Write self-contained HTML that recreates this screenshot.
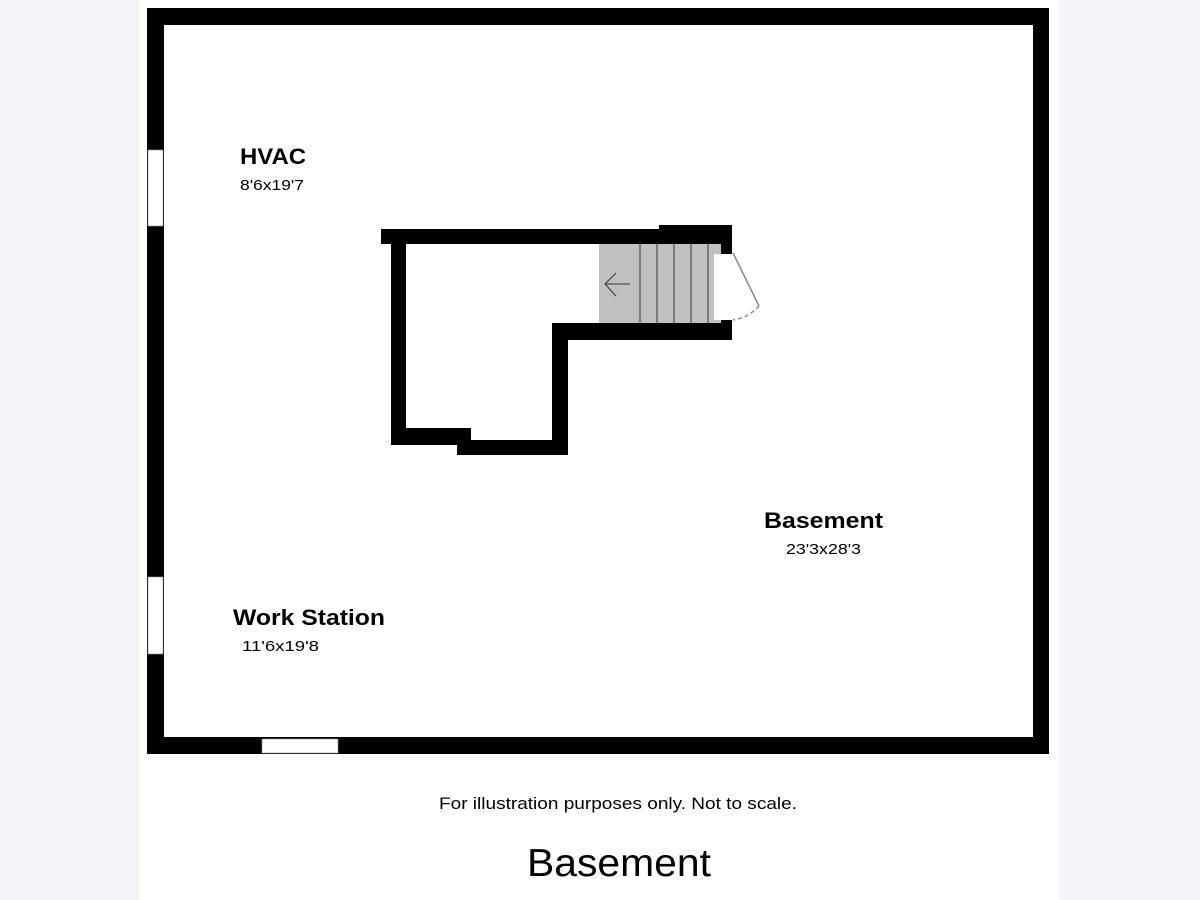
<!DOCTYPE html>
<html><head><style>
html,body{margin:0;padding:0}
body{width:1200px;height:900px;background:#f5f4f8;position:relative;overflow:hidden;font-family:"Liberation Sans",Arial,sans-serif}
</style></head><body>
<svg width="1200" height="900" style="position:absolute;left:0;top:0" font-family="Liberation Sans, Arial, sans-serif">
<rect x="139" y="0" width="920" height="900" fill="#fff"/>
<rect x="147" y="8" width="902" height="17" fill="#000"/>
<rect x="147" y="737" width="902" height="17" fill="#000"/>
<rect x="147" y="8" width="17" height="746" fill="#000"/>
<rect x="1033" y="8" width="16" height="746" fill="#000"/>
<rect x="148" y="150" width="15" height="76" fill="#fff" stroke="#999" stroke-width="0.6"/>
<rect x="148" y="577" width="15" height="77" fill="#fff" stroke="#999" stroke-width="0.6"/>
<rect x="262" y="739" width="76" height="14" fill="#fff" stroke="#999" stroke-width="0.6"/>
<rect x="599" y="244" width="122" height="79" fill="#c0c0c0"/>
<g stroke="#333" stroke-width="1">
<line x1="640" y1="244" x2="640" y2="323"/><line x1="657" y1="244" x2="657" y2="323"/>
<line x1="674" y1="244" x2="674" y2="323"/><line x1="691" y1="244" x2="691" y2="323"/>
<line x1="708" y1="244" x2="708" y2="323"/>
<line x1="605" y1="284" x2="630" y2="284"/>
<polyline points="616,273 605,284 616,296" fill="none"/>
</g>
<rect x="381" y="229" width="351" height="15" fill="#000"/>
<rect x="659" y="225" width="73" height="19" fill="#000"/>
<rect x="391" y="229" width="15" height="216" fill="#000"/>
<rect x="391" y="428" width="80" height="17" fill="#000"/>
<rect x="457" y="440" width="111" height="15" fill="#000"/>
<rect x="552" y="323" width="16" height="132" fill="#000"/>
<rect x="552" y="323" width="180" height="17" fill="#000"/>
<rect x="721" y="225" width="11" height="29" fill="#000"/>
<rect x="721" y="320" width="11" height="20" fill="#000"/>
<rect x="714" y="254" width="8" height="66" fill="#fff"/>
<line x1="733" y1="253" x2="759" y2="306" stroke="#888" stroke-width="1.5"/>
<path d="M759,306 Q748,318 733,320" fill="none" stroke="#888" stroke-width="1.5" stroke-dasharray="4,3"/>
<text x="240" y="164" font-size="22" font-weight="bold" textLength="66" lengthAdjust="spacingAndGlyphs">HVAC</text>
<text x="240" y="190" font-size="15" textLength="64" lengthAdjust="spacingAndGlyphs">8'6x19'7</text>
<text x="764" y="528" font-size="22" font-weight="bold" textLength="119" lengthAdjust="spacingAndGlyphs">Basement</text>
<text x="786" y="554" font-size="15" textLength="75" lengthAdjust="spacingAndGlyphs">23'3x28'3</text>
<text x="233" y="625" font-size="22" font-weight="bold" textLength="152" lengthAdjust="spacingAndGlyphs">Work Station</text>
<text x="242" y="651" font-size="15" textLength="77" lengthAdjust="spacingAndGlyphs">11'6x19'8</text>
<text x="439" y="809" font-size="17" textLength="358" lengthAdjust="spacingAndGlyphs">For illustration purposes only. Not to scale.</text>
<text x="527" y="876" font-size="39" textLength="184" lengthAdjust="spacingAndGlyphs">Basement</text>
</svg>
</body></html>
